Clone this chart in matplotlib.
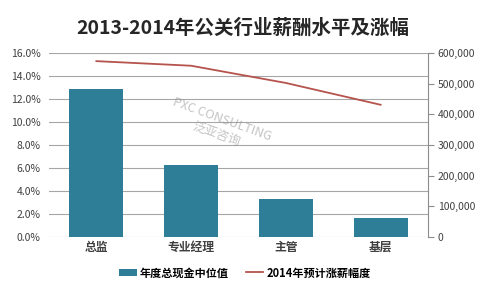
import matplotlib.pyplot as plt
import numpy as np
from matplotlib.ticker import FuncFormatter

plt.rcParams['font.family'] = ['Noto Sans CJK SC', 'DejaVu Sans']

# data
categories = ['总监', '专业经理', '主管', '基层']
cash_median = [482600, 233600, 123000, 62000]      # 年度总现金中位值 (right axis)
raise_pct = [15.3, 14.9, 13.4, 11.5]                # 2014年预计涨薪幅度 (left axis, %)
left_ticks = [0, 2, 4, 6, 8, 10, 12, 14, 16]
right_ticks = [0, 100000, 200000, 300000, 400000, 500000, 600000]

bar_color = '#2E7E98'
line_color = '#B5534C'
text_color = '#404040'

fig = plt.figure(figsize=(5, 2.95), dpi=100)
ax1 = fig.add_axes([0.098, 0.197, 0.758, 0.623])
ax2 = ax1.twinx()

x = np.arange(len(categories))

# bars on right axis
ax2.bar(x, cash_median, width=0.57, color=bar_color, zorder=2, label='年度总现金中位值')
ax2.set_ylim(0, 600000)
ax2.set_yticks(right_ticks)
ax2.yaxis.set_major_formatter(FuncFormatter(lambda v, p: f'{int(v):,}'))

# line on left axis, drawn above bars
ax1.set_zorder(ax2.get_zorder() + 1)
ax1.patch.set_visible(False)
ax1.plot(x, raise_pct, color=line_color, lw=1.3, zorder=3, label='2014年预计涨薪幅度')
ax1.set_ylim(0, 16)
ax1.set_yticks(left_ticks)
ax1.yaxis.set_major_formatter(FuncFormatter(lambda v, p: f'{v:.1f}%'))
ax1.set_xlim(-0.5, len(categories) - 0.5)
ax1.set_xticks(x)
ax1.set_xticklabels(categories, fontsize=8.5, fontweight='bold', color=text_color)

# gridlines drawn on the back axis so they sit under the bars
for t in left_ticks:
    ax2.axhline(t / 16 * 600000, color='#A6A6A6', lw=0.8, zorder=0)

for ax in (ax1, ax2):
    for s in ['top', 'left', 'bottom']:
        ax.spines[s].set_visible(False)
ax1.spines['right'].set_visible(False)
ax2.spines['right'].set_color('#8C8C8C')
ax2.spines['right'].set_linewidth(0.8)

ax1.tick_params(axis='y', length=0, pad=6, labelsize=7.5, labelcolor=text_color)
ax1.tick_params(axis='x', length=0, pad=3)
ax2.tick_params(axis='y', length=4, width=0.8, color='#8C8C8C', pad=3,
                labelsize=7.5, labelcolor=text_color)

fig.text(0.486, 0.905, '2013-2014年公关行业薪酬水平及涨幅', ha='center', va='center',
         fontsize=14, fontweight='bold', color='#262626')

# faint watermark
ax1.text(1.3, 9.6, 'PXC CONSULTING\n泛亚咨询', rotation=-20, ha='center', va='center',
         fontsize=9, color='#8A8A8A', alpha=0.5, zorder=4)

h2, l2 = ax2.get_legend_handles_labels()
h1, l1 = ax1.get_legend_handles_labels()
fig.legend(h2 + h1, l2 + l1, loc='center', bbox_to_anchor=(0.49, 0.075), ncol=2,
           frameon=False, handlelength=1.6, handletextpad=0.3,
           columnspacing=1.5, prop={'weight': 'bold', 'size': 8})

fig.savefig('out.png', dpi=100)
